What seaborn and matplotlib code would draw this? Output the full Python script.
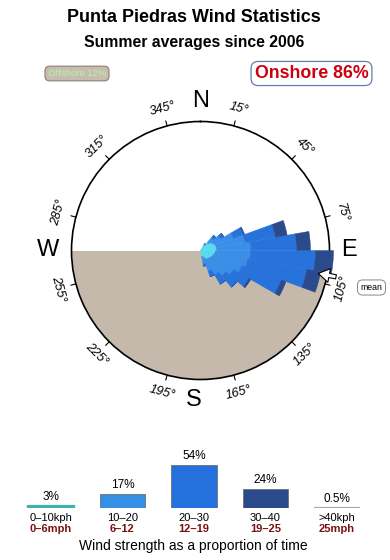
import numpy as np
import pandas as pd
import matplotlib
matplotlib.use("Agg")
import matplotlib.pyplot as plt
import seaborn as sns

# ---------------- data ----------------
directions = [35, 45, 55, 65, 75, 85, 95, 105, 115, 125, 135, 145, 155, 165]
speed_0_10 = [0.6, 1.0, 1.3, 1.5, 1.6, 1.6, 1.5, 1.4, 1.3, 1.2, 1.1, 1.0, 0.8, 0.6]
speed_10_20 = [0.2, 0.7, 1.0, 2.0, 2.9, 3.4, 3.5, 3.4, 3.1, 2.6, 2.2, 1.8, 1.4, 0.8]
speed_20_30 = [0.0, 0.3, 0.4, 1.1, 3.1, 4.6, 6.5, 6.0, 4.2, 1.8, 1.5, 1.1, 0.6, 0.2]
speed_30_40 = [0.0, 0.0, 0.0, 0.1, 1.2, 1.4, 1.8, 1.4, 0.5, 0.2, 0.0, 0.0, 0.0, 0.0]
mean_direction = 101

tick_degrees = [15, 45, 75, 105, 135, 165, 195, 225, 255, 285, 315, 345]
compass_labels = ["N", "E", "S", "W"]

class_labels = ["0\u201310kph", "10\u201320", "20\u201330", "30\u201340", ">40kph"]
class_mph = ["0\u20136mph", "6\u201312", "12\u201319", "19\u201325", "25mph"]
class_share = [3, 17, 54, 24, 0.5]
class_share_text = ["3%", "17%", "54%", "24%", "0.5%"]

offshore_pct = 12
onshore_pct = 86

# ---------------- style ----------------
sns.set_theme(style="white")
plt.rcParams["font.family"] = ["Liberation Sans", "DejaVu Sans"]
plt.rcParams["text.color"] = "black"

rose_colors = ["#55dcee", "#3a8ee8", "#2872dc", "#2a4a8c"]
bar_colors = ["#3fb2aa", "#3390e6", "#2470dc", "#2b4a8a", "#a8a8a8"]
land_color = "#c5b9ac"

W, H = 390, 560
fig = plt.figure(figsize=(W / 100, H / 100), dpi=100)

def fx(px):
    return px / W

def fy(py):
    return 1 - py / H

# titles
fig.text(fx(194), fy(18), "Punta Piedras Wind Statistics", ha="center", va="center",
         fontsize=12.9, fontweight="bold")
fig.text(fx(194), fy(42), "Summer averages since 2006", ha="center", va="center",
         fontsize=11.3, fontweight="bold")

fig.text(fx(77), fy(73.5), f"Offshore {offshore_pct}%", ha="center", va="center",
         fontsize=6.8, color="#b4f5a8",
         bbox=dict(boxstyle="round,pad=0.3,rounding_size=0.5", fc="#c8bcae", ec="#8a7f73", lw=0.8))
fig.text(fx(311.5), fy(73.5), f"Onshore {onshore_pct}%", ha="center", va="center",
         fontsize=12.8, fontweight="bold", color="#cc0011",
         bbox=dict(boxstyle="round,pad=0.2,rounding_size=0.4", fc="white", ec="#6080aa", lw=0.9))

# ---------------- rose ----------------
cx, cy, R = 200.5, 250.5, 129
ax = fig.add_axes([fx(cx - R), fy(cy + R), 2 * R / W, 2 * R / H], projection="polar")
ax.set_theta_zero_location("N")
ax.set_theta_direction(-1)
rmax = 12.9
ax.set_ylim(0, rmax)
ax.set_xticks([])
ax.set_yticks([])
ax.grid(False)
ax.set_facecolor("white")
ax.spines["polar"].set_linewidth(1.2)
ax.spines["polar"].set_color("black")

th = np.linspace(np.pi / 2, 3 * np.pi / 2, 300)
ax.fill_between(th, 0, rmax, color=land_color, lw=0, zorder=1)

theta = np.deg2rad(directions)
width = np.deg2rad(10)
bottom = np.zeros(len(directions))
for seg, col in zip([speed_0_10, speed_10_20, speed_20_30, speed_30_40], rose_colors):
    seg = np.array(seg)
    ax.bar(theta, seg, width=width, bottom=bottom, color=col, edgecolor=col,
           linewidth=0.3, zorder=3, clip_on=False)
    bottom = bottom + seg

# ticks and degree labels
for b in tick_degrees:
    t = np.deg2rad(b)
    ax.plot([t, t], [rmax, rmax * 1.04], color="black", lw=0.8, clip_on=False, zorder=5)
    rot = ((-b + 90) % 180) - 90
    ax.text(t, rmax * 1.14, f"{b}\u00b0", ha="center", va="center", rotation=rot,
            rotation_mode="anchor", fontsize=9.2, style="italic", clip_on=False)

compass_pos = [(200.5, 101), (349, 250), (194, 400), (48, 250)]
for lab, (px, py) in zip(compass_labels, compass_pos):
    fig.text(fx(px), fy(py), lab, ha="center", va="center", fontsize=17, color="black")

# mean arrow
tm = np.deg2rad(mean_direction)
ax.annotate("", xy=(tm, rmax * 0.93), xytext=(tm, rmax * 1.07),
            arrowprops=dict(facecolor="white", edgecolor="black", width=3, headwidth=10,
                            headlength=8, lw=0.8),
            annotation_clip=False, zorder=6)
fig.text(fx(371.5), fy(287.5), "mean", ha="center", va="center", fontsize=6.3,
         bbox=dict(boxstyle="round,pad=0.35,rounding_size=0.6", fc="white", ec="#888888", lw=0.7))

# ---------------- speed class legend ----------------
step = 71.5
left = 51 - step / 2
base = 508
bar_h = 43
ax2 = fig.add_axes([fx(left), fy(base), 5 * step / W, bar_h / H])
df = pd.DataFrame({"cls": class_labels, "share": class_share})
sns.barplot(data=df, x="cls", y="share", hue="cls", palette=bar_colors, legend=False,
            width=0.63, saturation=1, edgecolor="#707070", linewidth=0.6, ax=ax2)
for p in ax2.patches:
    if p.get_height() < 5:
        p.set_edgecolor(p.get_facecolor())
        p.set_linewidth(1.6)
ax2.set_xlim(-0.5, 4.5)
ax2.set_ylim(0, 54)
ax2.axis("off")
for i, (v, txt) in enumerate(zip(class_share, class_share_text)):
    ax2.annotate(txt, xy=(i, v), xytext=(0, 6.5), textcoords="offset points",
                 ha="center", va="center", fontsize=8.5, annotation_clip=False)
    ax2.annotate(class_labels[i], xy=(i, 0), xytext=(0, -7.5), textcoords="offset points",
                 ha="center", va="center", fontsize=8, annotation_clip=False)
    ax2.annotate(class_mph[i], xy=(i, 0), xytext=(0, -15), textcoords="offset points",
                 ha="center", va="center", fontsize=8, fontweight="bold",
                 color="#7a1010", annotation_clip=False)

fig.text(fx(193), fy(546), "Wind strength as a proportion of time", ha="center",
         va="center", fontsize=10)

fig.savefig("out.png", dpi=100)
